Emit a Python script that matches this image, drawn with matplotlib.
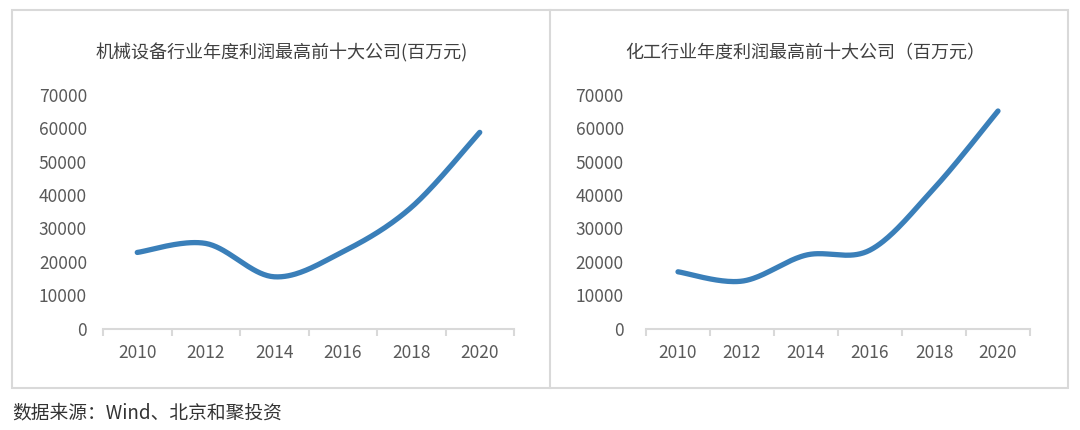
import matplotlib
matplotlib.use("Agg")
import matplotlib.pyplot as plt
import numpy as np
from matplotlib.patches import Rectangle
from matplotlib.lines import Line2D

plt.rcParams["font.family"] = ["Noto Sans CJK SC", "DejaVu Sans"]

years = ["2010", "2012", "2014", "2016", "2018", "2020"]
machinery = [22800, 25500, 15500, 23000, 36300, 58800]
chemical = [17000, 14200, 22000, 23500, 42000, 65200]

title_left = "机械设备行业年度利润最高前十大公司(百万元)"
title_right = "化工行业年度利润最高前十大公司（百万元）"
source = "数据来源：Wind、北京和聚投资"

line_color = "#3a7fb9"
axis_color = "#d9d9d9"
text_color = "#595959"


def smooth(xs, ys, n=40):
    # excel-style smoothed line: bezier segments with catmull-rom control points
    xs = np.asarray(xs, float)
    ys = np.asarray(ys, float)
    px = np.concatenate([[xs[0]], xs, [xs[-1]]])
    py = np.concatenate([[ys[0]], ys, [ys[-1]]])
    out_x, out_y = [], []
    t = np.linspace(0, 1, n)
    for i in range(len(xs) - 1):
        p0 = np.array([px[i + 1], py[i + 1]])
        p3 = np.array([px[i + 2], py[i + 2]])
        c1 = p0 + (p3 - np.array([px[i], py[i]])) / 6
        c2 = p3 - (np.array([px[i + 3], py[i + 3]]) - p0) / 6
        b = ((1 - t) ** 3)[:, None] * p0 + (3 * (1 - t) ** 2 * t)[:, None] * c1 \
            + (3 * (1 - t) * t ** 2)[:, None] * c2 + (t ** 3)[:, None] * p3
        out_x.extend(b[:, 0])
        out_y.extend(b[:, 1])
    return out_x, out_y


W, H = 1080, 430
fig = plt.figure(figsize=(10.8, 4.3), dpi=100)

# outer frame and divider
fig.add_artist(Rectangle((12 / W, 1 - 388 / H), 1056 / W, 378 / H,
                         transform=fig.transFigure, fill=False,
                         edgecolor=axis_color, linewidth=1.5))
fig.add_artist(Line2D([550 / W, 550 / W], [1 - 388 / H, 1 - 10 / H],
                      transform=fig.transFigure, color=axis_color, linewidth=1.5))

panels = [
    (machinery, title_left, [103 / W, 1 - 328.5 / H, 411 / W, 233.5 / H], 282, 11.5),
    (chemical, title_right, [646 / W, 1 - 328.5 / H, 384 / W, 233.5 / H], 805, 16),
]

for values, title, rect, title_x, ypad in panels:
    ax = fig.add_axes(rect)
    x = np.arange(len(years))
    sx, sy = smooth(x, values)
    ax.plot(sx, sy, color=line_color, linewidth=3.8, solid_capstyle="round")

    ax.set_xlim(-0.5, len(years) - 0.5)
    ax.set_ylim(0, 70000)
    ax.set_yticks(range(0, 70001, 10000))
    ax.set_xticks(x)
    ax.set_xticklabels(years)
    ax.set_xticks(np.arange(-0.5, len(years), 1), minor=True)

    for side in ["left", "right", "top"]:
        ax.spines[side].set_visible(False)
    ax.spines["bottom"].set_color(axis_color)
    ax.spines["bottom"].set_linewidth(1.5)

    ax.tick_params(axis="x", which="major", length=0, pad=11.5,
                   labelsize=12.5, labelcolor=text_color)
    ax.tick_params(axis="x", which="minor", length=5, width=1.5, color=axis_color)
    ax.tick_params(axis="y", length=0, pad=ypad, labelsize=12.5, labelcolor=text_color)
    ax.patch.set_alpha(0)

    fig.text(title_x / W, 1 - 53 / H, title, ha="center", va="center",
             fontsize=13, color="#404040")

fig.text(12 / W, 1 - 413 / H, source, ha="left", va="center",
         fontsize=13.5, color="#333333")

fig.savefig("out.png", dpi=100, facecolor="white")
